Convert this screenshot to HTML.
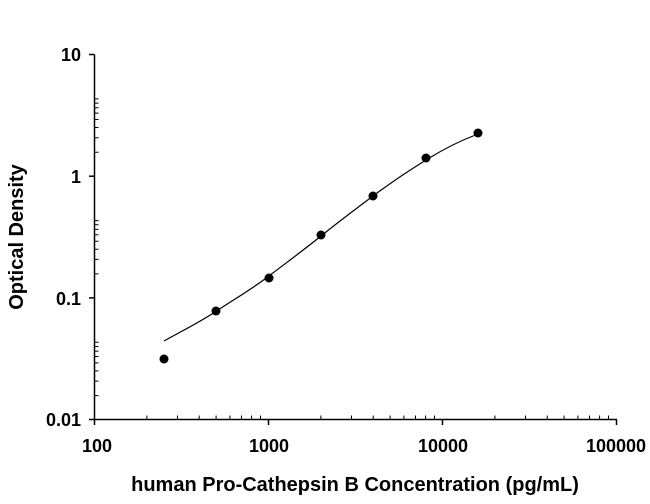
<!DOCTYPE html>
<html><head><style>body{margin:0;background:#fff}</style></head><body>
<svg width="650" height="499" viewBox="0 0 650 499" xmlns="http://www.w3.org/2000/svg" font-family="Liberation Sans, sans-serif" font-weight="bold">
<g stroke="#000" stroke-width="1.5" fill="none">
<line x1="94.5" y1="54.5" x2="94.5" y2="419.5"/>
<line x1="94.5" y1="419.5" x2="617" y2="419.5"/>
<line x1="89" y1="54.5" x2="94.5" y2="54.5"/><line x1="89" y1="176.2" x2="94.5" y2="176.2"/><line x1="89" y1="297.9" x2="94.5" y2="297.9"/><line x1="89" y1="419.5" x2="94.5" y2="419.5"/>
<line x1="94.5" y1="419.5" x2="94.5" y2="425"/><line x1="268.5" y1="419.5" x2="268.5" y2="425"/><line x1="442.5" y1="419.5" x2="442.5" y2="425"/><line x1="616.5" y1="419.5" x2="616.5" y2="425"/>
<path stroke-width="1" d="
M94.5,395.6h4M94.5,381.1h4M94.5,370.9h4M94.5,362.9h4M94.5,356.5h4M94.5,351.1h4M94.5,346.5h4M94.5,342.3h4
M94.5,273.9h4M94.5,259.4h4M94.5,249.2h4M94.5,241.2h4M94.5,234.8h4M94.5,229.4h4M94.5,224.8h4M94.5,220.6h4
M94.5,152.2h4M94.5,137.7h4M94.5,127.5h4M94.5,119.5h4M94.5,113.1h4M94.5,107.7h4M94.5,103.1h4M94.5,98.9h4
M146.9,419.5v-4M177.5,419.5v-4M199.2,419.5v-4M216.1,419.5v-4M229.9,419.5v-4M241.5,419.5v-4M251.6,419.5v-4M260.5,419.5v-4
M320.9,419.5v-4M351.5,419.5v-4M373.2,419.5v-4M390.1,419.5v-4M403.9,419.5v-4M415.5,419.5v-4M425.6,419.5v-4M434.5,419.5v-4
M494.9,419.5v-4M525.5,419.5v-4M547.2,419.5v-4M564.1,419.5v-4M577.9,419.5v-4M589.5,419.5v-4M599.6,419.5v-4M608.5,419.5v-4"/>
<path stroke-width="1.2" d="M164,341 C182,331 200,322 215,312 S252,289 269,276 S305,249 321,236 S357,208 373,196 S410,170 426,160 S462,140 478,134"/>
</g>
<g fill="#000">
<circle cx="164" cy="359" r="4.5"/><circle cx="216" cy="311" r="4.5"/><circle cx="269" cy="278" r="4.5"/><circle cx="321" cy="235" r="4.5"/><circle cx="373" cy="196" r="4.5"/><circle cx="426" cy="158" r="4.5"/><circle cx="478" cy="133" r="4.5"/>
</g>
<g font-size="18" text-anchor="end">
<text x="81" y="61">10</text><text x="81" y="183">1</text><text x="81" y="305">0.1</text><text x="81" y="426">0.01</text>
</g>
<g font-size="18" text-anchor="middle">
<text x="97" y="452">100</text><text x="269" y="452">1000</text><text x="443" y="452">10000</text><text x="616" y="452">100000</text>
</g>
<text x="355" y="491" font-size="20" text-anchor="middle">human Pro-Cathepsin B Concentration (pg/mL)</text>
<text transform="translate(23,237) rotate(-90)" font-size="20" text-anchor="middle">Optical Density</text>
</svg>
</body></html>
